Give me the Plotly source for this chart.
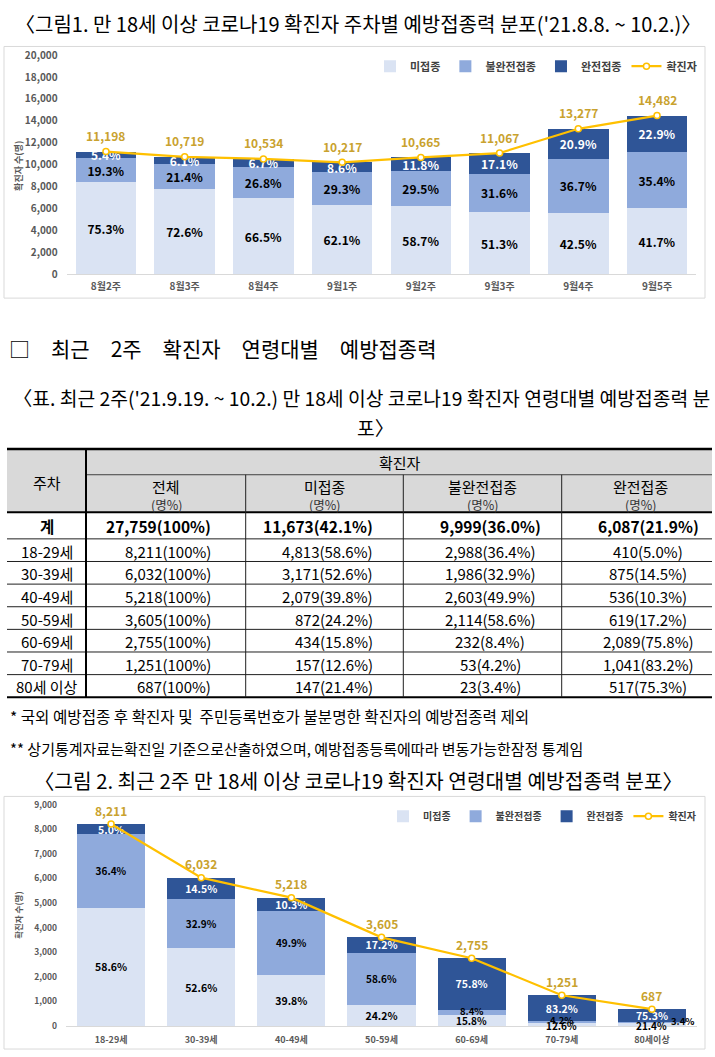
import plotly.graph_objects as go

W, H = 715, 1057
FONT = "Noto Sans CJK KR"

# ---------------- chart 1 data (weekly) ----------------
weeks = ["8월2주", "8월3주", "8월4주", "9월1주", "9월2주", "9월3주", "9월4주", "9월5주"]
weekly_total = [11198, 10719, 10534, 10217, 10665, 11067, 13277, 14482]
weekly_unvax_pct = [75.3, 72.6, 66.5, 62.1, 58.7, 51.3, 42.5, 41.7]
weekly_partial_pct = [19.3, 21.4, 26.8, 29.3, 29.5, 31.6, 36.7, 35.4]
weekly_full_pct = [5.4, 6.1, 6.7, 8.6, 11.8, 17.1, 20.9, 22.9]

# ---------------- table / chart 2 data (age groups) ----------------
age_groups = ["18-29세", "30-39세", "40-49세", "50-59세", "60-69세", "70-79세", "80세이상"]
age_row_labels = ["18-29세", "30-39세", "40-49세", "50-59세", "60-69세", "70-79세", "80세 이상"]
age_total = [8211, 6032, 5218, 3605, 2755, 1251, 687]
age_unvax = [4813, 3171, 2079, 872, 434, 157, 147]
age_unvax_pct = [58.6, 52.6, 39.8, 24.2, 15.8, 12.6, 21.4]
age_partial = [2988, 1986, 2603, 2114, 232, 53, 23]
age_partial_pct = [36.4, 32.9, 49.9, 58.6, 8.4, 4.2, 3.4]
age_full = [410, 875, 536, 619, 2089, 1041, 517]
age_full_pct = [5.0, 14.5, 10.3, 17.2, 75.8, 83.2, 75.3]

sum_counts = [27759, 11673, 9999, 6087]
sum_pcts = [100, 42.1, 36.0, 21.9]

series_names = ["미접종", "불완전접종", "완전접종", "확진자"]
table_cols = ["전체", "미접종", "불완전접종", "완전접종"]
table_unit = "(명%)"

# ---------------- styles ----------------
C_UNVAX = "#DAE3F3"
C_PART = "#8FAADC"
C_FULL = "#2F5597"
C_LINE = "#FFC000"
C_LINE_TXT = "#C9A22E"
C_TICK = "#595959"

# labels of very thin segments in chart 2 are drawn as separate labels with a small
# offset (index of age group -> (x shift px, y shift px))
thin_unvax_offsets = {4: (0, 0), 5: (0, -1), 6: (0, -1)}
thin_partial_offsets = {4: (0, 2), 5: (0, 2), 6: (31, 1)}


def px(x):
    return x / W


def py(y):
    return 1 - y / H


def pct(p):
    return f"{p:.1f}%"


fig = go.Figure()
annotations = []
shapes = []

bar_common = dict(textposition="inside", insidetextanchor="middle", textangle=0,
                  constraintext="none", cliponaxis=False, marker_line_width=0)
line_style = dict(mode="lines+markers", line=dict(color=C_LINE, width=2.2),
                  marker=dict(symbol="circle", size=6, color="white",
                              line=dict(color=C_LINE, width=1.5)),
                  cliponaxis=False)

# ---------------- chart 1 ----------------
unvax_cnt = [t * p / 100 for t, p in zip(weekly_total, weekly_unvax_pct)]
part_cnt = [t * p / 100 for t, p in zip(weekly_total, weekly_partial_pct)]
full_cnt = [t * p / 100 for t, p in zip(weekly_total, weekly_full_pct)]

fig.add_trace(go.Bar(x=weeks, y=unvax_cnt, name=series_names[0], marker_color=C_UNVAX,
                     text=[pct(p) for p in weekly_unvax_pct], width=0.77,
                     textfont=dict(size=12, color="#000000", weight="bold"),
                     xaxis="x", yaxis="y", legend="legend", **bar_common))
fig.add_trace(go.Bar(x=weeks, y=part_cnt, name=series_names[1], marker_color=C_PART,
                     text=[pct(p) for p in weekly_partial_pct], width=0.77,
                     textfont=dict(size=12, color="#000000", weight="bold"),
                     xaxis="x", yaxis="y", legend="legend", **bar_common))
fig.add_trace(go.Bar(x=weeks, y=full_cnt, name=series_names[2], marker_color=C_FULL,
                     text=[pct(p) for p in weekly_full_pct], width=0.77,
                     textfont=dict(size=12, color="#FFFFFF", weight="bold"),
                     xaxis="x", yaxis="y", legend="legend", **bar_common))
fig.add_trace(go.Scatter(x=weeks, y=weekly_total, name=series_names[3],
                         xaxis="x", yaxis="y", legend="legend", **line_style))
for xv, v in zip(weeks, weekly_total):
    annotations.append(dict(x=xv, y=v, xref="x", yref="y", text=f"{v:,}", showarrow=False,
                            yanchor="middle", yshift=16,
                            font=dict(size=12, color=C_LINE_TXT, weight="bold")))

# ---------------- chart 2 ----------------
unvax_text = [("" if i in thin_unvax_offsets else pct(p)) for i, p in enumerate(age_unvax_pct)]
partial_text = [("" if i in thin_partial_offsets else pct(p)) for i, p in enumerate(age_partial_pct)]

fig.add_trace(go.Bar(x=age_groups, y=age_unvax, name=series_names[0], marker_color=C_UNVAX,
                     text=unvax_text, width=0.755,
                     textfont=dict(size=10.5, color="#000000", weight="bold"),
                     xaxis="x2", yaxis="y2", legend="legend2", **bar_common))
fig.add_trace(go.Bar(x=age_groups, y=age_partial, name=series_names[1], marker_color=C_PART,
                     text=partial_text, width=0.755,
                     textfont=dict(size=10, color="#000000", weight="bold"),
                     xaxis="x2", yaxis="y2", legend="legend2", **bar_common))
fig.add_trace(go.Bar(x=age_groups, y=age_full, name=series_names[2], marker_color=C_FULL,
                     text=[pct(p) for p in age_full_pct], width=0.755,
                     textfont=dict(size=10.5, color="#FFFFFF", weight="bold"),
                     xaxis="x2", yaxis="y2", legend="legend2", **bar_common))
fig.add_trace(go.Scatter(x=age_groups, y=age_total, name=series_names[3],
                         xaxis="x2", yaxis="y2", legend="legend2", **line_style))
for xv, v in zip(age_groups, age_total):
    annotations.append(dict(x=xv, y=v, xref="x2", yref="y2", text=f"{v:,}", showarrow=False,
                            yanchor="middle", yshift=14,
                            font=dict(size=12, color=C_LINE_TXT, weight="bold")))

# labels of thin segments
for i, (dx, dy) in thin_unvax_offsets.items():
    annotations.append(dict(x=age_groups[i], y=age_unvax[i] / 2, xref="x2", yref="y2",
                            text=pct(age_unvax_pct[i]), showarrow=False, xshift=dx, yshift=dy,
                            borderpad=0, font=dict(size=10, color="#000000", weight="bold")))
for i, (dx, dy) in thin_partial_offsets.items():
    annotations.append(dict(x=age_groups[i], y=age_unvax[i] + age_partial[i] / 2,
                            xref="x2", yref="y2", text=pct(age_partial_pct[i]), showarrow=False,
                            xshift=dx, yshift=dy, borderpad=0,
                            font=dict(size=9.5, color="#000000", weight="bold")))


# ---------------- page texts ----------------
def txt(x, y, s, size, xanchor="center", color="#000000", weight="normal", angle=0):
    annotations.append(dict(x=px(x), y=py(y), xref="paper", yref="paper", text=s,
                            showarrow=False, xanchor=xanchor, yanchor="middle",
                            textangle=angle,
                            font=dict(family=FONT, size=size, color=color, weight=weight)))


txt(357.5, 16, "〈그림1. 만 18세 이상 코로나19 확진자 주차별 예방접종력 분포('21.8.8. ~ 10.2.)〉", 20)
txt(19, 160, "확진자 수(명)", 9, color=C_TICK, weight="bold", angle=-90)
txt(7, 345, "□\u2003최근\u20032주\u2003확진자\u2003연령대별\u2003예방접종력", 21, xanchor="left")
txt(361, 395, "〈표. 최근 2주('21.9.19. ~ 10.2.) 만 18세 이상 코로나19 확진자 연령대별 예방접종력 분", 19.3)
txt(375, 426, "포〉", 19.3)
txt(8, 717, "* 국외 예방접종 후 확진자 및\u00a0 주민등록번호가 불분명한 확진자의 예방접종력 제외", 15.6, xanchor="left")
txt(8, 750, "** 상기통계자료는확진일 기준으로산출하였으며, 예방접종등록에따라 변동가능한잠정 통계임", 15, xanchor="left")
txt(358, 782, "〈그림 2. 최근 2주 만 18세 이상 코로나19 확진자 연령대별 예방접종력 분포〉", 20.3)
txt(18, 920, "확진자 수(명)", 8.5, color=C_TICK, weight="bold", angle=-90)

# chart frames
for (y0, y1) in [(39, 294), (799, 1055)]:
    shapes.append(dict(type="rect", xref="paper", yref="paper", x0=px(4), x1=px(705),
                       y0=py(y1), y1=py(y0), line=dict(color="#D9D9D9", width=1),
                       fillcolor="rgba(0,0,0,0)", layer="below"))

# ---------------- table ----------------
col_edges = [7, 86, 245.7, 403.3, 561.7, 712]
y_top, y_band, y_hdr, y_sum = 447, 473, 511, 538
y_bot = 698.5
row_h = (y_bot - y_sum) / len(age_row_labels)

shapes.append(dict(type="rect", xref="paper", yref="paper", x0=px(col_edges[0]), x1=px(col_edges[-1]),
                   y0=py(y_hdr), y1=py(y_top), line=dict(width=0), fillcolor="#D9D9D9", layer="below"))


def hline(y, x0, x1, w, c="#000000"):
    shapes.append(dict(type="line", xref="paper", yref="paper", x0=px(x0), x1=px(x1),
                       y0=py(y), y1=py(y), line=dict(color=c, width=w)))


def vline(x, y0, y1, w, c="#000000"):
    shapes.append(dict(type="line", xref="paper", yref="paper", x0=px(x), x1=px(x),
                       y0=py(y0), y1=py(y1), line=dict(color=c, width=w)))


hline(y_top, col_edges[0], col_edges[-1], 2.5)
hline(y_band, col_edges[1], col_edges[-1], 1, "#404040")
hline(y_hdr, col_edges[0], col_edges[-1], 2)
hline(y_sum, col_edges[0], col_edges[-1], 1, "#202020")
for i in range(1, len(age_row_labels)):
    hline(y_sum + i * row_h, col_edges[0], col_edges[-1], 1, "#202020")
hline(y_bot, col_edges[0], col_edges[-1], 2)
vline(col_edges[1], y_top, y_bot, 2)
for x in col_edges[2:5]:
    vline(x, y_band, y_bot, 1, "#202020")

# header texts
txt(46.5, 481, "주차", 15)
txt(400, 461, "확진자", 15)
hdr_x = [166, 324.5, 482.5, 640]
for x, name in zip(hdr_x, table_cols):
    txt(x, 485, name, 15)
    txt(x, 503, table_unit, 12.5, color="#333333")

# value cell positions: (x, anchor) per column
cell_pos = [(213, "right"), (375, "right"), (490, "center"), (648, "center")]


def cell(n, p):
    return f"{n:,}({p}%)" if p == 100 else f"{n:,}({p:.1f}%)"


y_sum_c = (y_hdr + y_sum) / 2 + 0.5
txt(46.5, y_sum_c, "계", 15.5, weight="bold")
for (x, a), n, p in zip(cell_pos, sum_counts, sum_pcts):
    txt(x, y_sum_c, cell(n, p), 15.5, xanchor=a, weight="bold")

for i, lab in enumerate(age_row_labels):
    yc = y_sum + (i + 0.5) * row_h + 1
    txt(46.5, yc, lab, 15)
    vals = [(age_total[i], 100), (age_unvax[i], age_unvax_pct[i]),
            (age_partial[i], age_partial_pct[i]), (age_full[i], age_full_pct[i])]
    for (x, a), (n, p) in zip(cell_pos, vals):
        txt(x, yc, cell(n, p), 15, xanchor=a)

# ---------------- layout ----------------
axis_font = dict(family=FONT, color=C_TICK, weight="bold")
fig.update_layout(
    width=W, height=H, autosize=False,
    margin=dict(l=0, r=0, t=0, b=0),
    paper_bgcolor="white", plot_bgcolor="white",
    font=dict(family=FONT, color="#000000"),
    barmode="stack",
    showlegend=True,
    xaxis=dict(domain=[px(66.6), px(696.4)], anchor="y", showline=True, linecolor="#D9D9D9",
               linewidth=1, ticks="", showgrid=False, zeroline=False,
               tickfont=dict(size=10, **axis_font), ticklabelstandoff=3),
    yaxis=dict(domain=[py(270), py(47.7)], anchor="x", range=[0, 20000], dtick=2000,
               tickformat=",", showgrid=False, zeroline=False, showline=False, ticks="",
               tickfont=dict(size=10, **axis_font), ticklabelstandoff=8),
    xaxis2=dict(domain=[px(66), px(697)], anchor="y2", showline=True, linecolor="#D9D9D9",
                linewidth=1, ticks="", showgrid=False, zeroline=False,
                tickfont=dict(size=9, **axis_font), ticklabelstandoff=5),
    yaxis2=dict(domain=[py(1031.7), py(807.3)], anchor="x2", range=[0, 9000], dtick=1000,
                tickformat=",", showgrid=False, zeroline=False, showline=False, ticks="",
                tickfont=dict(size=8.5, **axis_font), ticklabelstandoff=8),
    legend=dict(orientation="h", x=px(702), xanchor="right", y=py(59), yanchor="middle",
                font=dict(family=FONT, size=11, color="#404040", weight="bold"),
                bgcolor="rgba(0,0,0,0)", traceorder="normal", itemwidth=30),
    legend2=dict(orientation="h", x=px(702), xanchor="right", y=py(819), yanchor="middle",
                 font=dict(family=FONT, size=10, color="#404040", weight="bold"),
                 bgcolor="rgba(0,0,0,0)", traceorder="normal", itemwidth=30),
    annotations=annotations,
    shapes=shapes,
)

fig.write_html("out.html", config={"displayModeBar": False},
               post_script="document.body.style.margin='0';document.body.style.overflow='hidden';")
